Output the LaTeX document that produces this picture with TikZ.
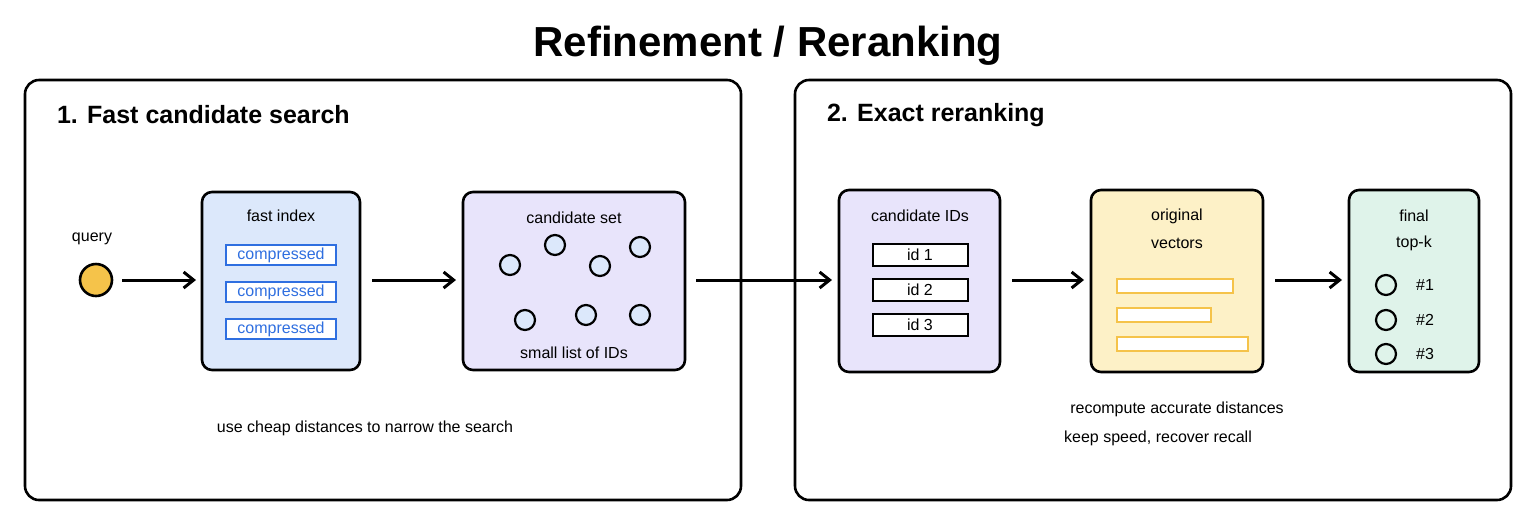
\documentclass[tikz,border=0pt]{standalone}
\usepackage{fontspec}
\setmainfont{Liberation Sans}
\usetikzlibrary{arrows.meta}
\definecolor{qy}{HTML}{F5C34A}
\definecolor{bl}{HTML}{DCE8FB}
\definecolor{pu}{HTML}{E8E4FB}
\definecolor{ye}{HTML}{FDF1C7}
\definecolor{gr}{HTML}{DFF3EA}
\definecolor{cb}{HTML}{2F6FE0}
\begin{document}
\begin{tikzpicture}[x=0.5pt,y=-0.5pt,
  panel/.style={draw,line width=1.3pt,rounded corners=7pt},
  box/.style={draw,line width=1.3pt,rounded corners=5pt},
  lab/.style={font=\fontsize{8}{9}\selectfont},
  arr/.style={line width=1.5pt,-{Straight Barb[length=5pt,width=8pt]}},
  cmp/.style={draw=cb,line width=0.8pt,fill=white},
  idb/.style={draw,line width=0.8pt,fill=white},
  bar/.style={draw=qy,line width=0.8pt,fill=white},
  dot/.style={circle,draw,line width=1.1pt,minimum size=10pt,inner sep=0pt}]
\useasboundingbox (0,0) rectangle (1536,526);
\node[font=\bfseries\fontsize{21}{24}\selectfont] (title) at (768,46) {Refinement / Reranking};
\draw[panel] (25,80) rectangle (741,500);
\draw[panel] (795,80) rectangle (1511,500);
\node[anchor=west,font=\bfseries\fontsize{12.5}{14}\selectfont] (h1) at (50,115) {1. Fast candidate search};
\node[anchor=west,font=\bfseries\fontsize{12.5}{14}\selectfont] (h2) at (820,115) {2. Exact reranking};
% query
\node[circle,draw,line width=1.3pt,fill=qy,minimum size=16pt,inner sep=0pt] (q) at (96,280) {};
\node[lab] (ql) at (92,239) {query};
% fast index
\draw[box,fill=bl] (202,192) rectangle (360,370);
\node (fi) at (281,281) {};
\node[lab] (fil) at (281,216) {fast index};
\foreach \y/\n in {255/c1,292/c2,329/c3}{
  \draw[cmp] (226,\y-10) rectangle (336,\y+10);
  \node[lab,text=cb] (\n) at (281,\y) {compressed};}
% candidate set
\draw[box,fill=pu] (463,192) rectangle (685,370);
\node[lab] (csl) at (574,218) {candidate set};
\foreach \p/\n in {{(510,265)}/d1,{(555,245)}/d2,{(600,266)}/d3,{(640,247)}/d4,{(525,320)}/d5,{(586,315)}/d6,{(640,315)}/d7}
  \node[dot,fill=bl] (\n) at \p {};
\node[lab] (csb) at (574,353) {small list of IDs};
\node[lab] (t1) at (365,428) {use cheap distances to narrow the search};
% candidate IDs
\draw[box,fill=pu] (839,190) rectangle (1000,372);
\node[lab] (cil) at (920,216) {candidate IDs};
\foreach \y/\n in {255/1,290/2,325/3}{
  \draw[idb] (873,\y-11) rectangle (968,\y+11);
  \node[lab] (id\n) at (920,\y) {id \n};}
% original vectors
\draw[box,fill=ye] (1091,190) rectangle (1263,372);
\node[lab] (ov1) at (1177,216) {original};
\node[lab] (ov2) at (1177,243) {vectors};
\draw[bar] (1117,279) rectangle (1233,293);
\draw[bar] (1117,308) rectangle (1211,322);
\draw[bar] (1117,337) rectangle (1248,351);
% final
\draw[box,fill=gr] (1349,190) rectangle (1479,372);
\node[lab] (f1) at (1414,216) {final};
\node[lab] (f2) at (1414,243) {top-k};
\foreach \y/\n in {285/1,320/2,354/3}{
  \node[dot] (r\n) at (1386,\y) {};
  \node[lab] (rl\n) at (1425,\y) {\#\n};}
\node[lab] (t2) at (1177,409) {recompute accurate distances};
\node[lab] (t3) at (1158,438) {keep speed, recover recall};
% arrows
\coordinate (a1s) at (122,280); \coordinate (a1e) at (196,280);
\coordinate (a2s) at (372,280); \coordinate (a2e) at (456,280);
\coordinate (a3s) at (696,280); \coordinate (a3e) at (832,280);
\coordinate (a4s) at (1012,280); \coordinate (a4e) at (1084,280);
\coordinate (a5s) at (1275,280); \coordinate (a5e) at (1342,280);
\foreach \a in {a1,a2,a3,a4,a5} \draw[arr] (\a s) -- (\a e);
\end{tikzpicture}
\end{document}
